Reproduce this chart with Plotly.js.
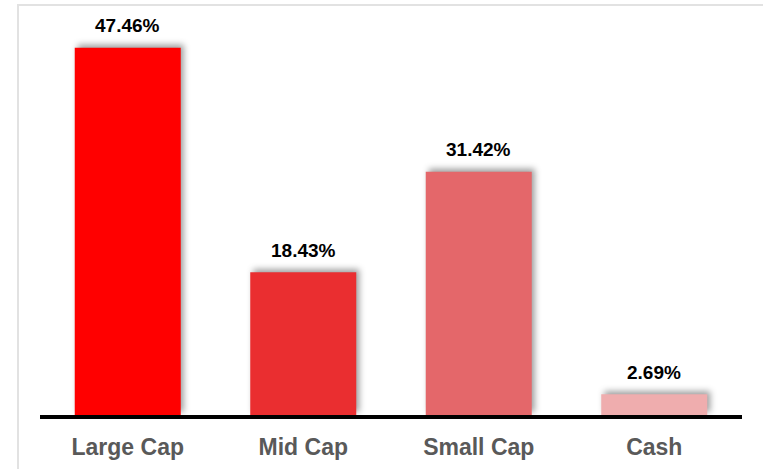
<!DOCTYPE html>
<html>
<head>
<meta charset="utf-8">
<script src="https://cdn.plot.ly/plotly-3.0.1.min.js"></script>
<style>
  html, body { margin: 0; padding: 0; background: #ffffff; }
  #wrap { position: relative; width: 763px; height: 469px; overflow: hidden; }
  #frame { position: absolute; left: 17px; top: 4px; width: 800px; height: 500px;
           border-top: 2px solid #e2e2e2; border-left: 2px solid #e2e2e2; pointer-events: none; }
  #chart { position: absolute; left: 0; top: 0; width: 763px; height: 469px; }
  .trace.bars .point path { filter: drop-shadow(3px -3px 3px rgba(0,0,0,0.38)); }
</style>
</head>
<body>
<div id="wrap">
  <div id="chart"></div>
  <div id="frame"></div>
</div>
<script>
const categories = ["Large Cap", "Mid Cap", "Small Cap", "Cash"];
const values = [47.46, 18.43, 31.42, 2.69];
const labels = ["47.46%", "18.43%", "31.42%", "2.69%"];
const barColors = ["#FF0000", "#EA2E30", "#E4676A", "#EFADAE"];

const trace = {
  type: "bar",
  x: categories,
  y: values,
  marker: { color: barColors, line: { width: 0 } },
  hoverinfo: "none"
};

const annotations = categories.map((c, i) => ({
  x: c, y: values[i], xref: "x", yref: "y",
  text: labels[i], showarrow: false,
  yanchor: "middle", yshift: 22,
  font: { family: "Liberation Sans, Arial, sans-serif", size: 19, weight: 700, color: "#000000" }
}));

const layout = {
  width: 763, height: 469,
  margin: { l: 40, r: 21, t: 28, b: 54 },
  paper_bgcolor: "rgba(0,0,0,0)",
  plot_bgcolor: "rgba(0,0,0,0)",
  bargap: 0.396,
  showlegend: false,
  xaxis: {
    type: "category",
    range: [-0.5, 3.5],
    showline: true, linecolor: "#000000", linewidth: 4,
    ticks: "", showgrid: false, zeroline: false,
    ticklabelstandoff: 8,
    tickfont: { family: "Liberation Sans, Arial, sans-serif", size: 23, weight: 700, color: "#595959" }
  },
  yaxis: {
    range: [0, 50],
    visible: false, showgrid: false, zeroline: false
  },
  annotations: annotations
};

Plotly.newPlot("chart", [trace], layout, { displayModeBar: false, staticPlot: true });
</script>
</body>
</html>
